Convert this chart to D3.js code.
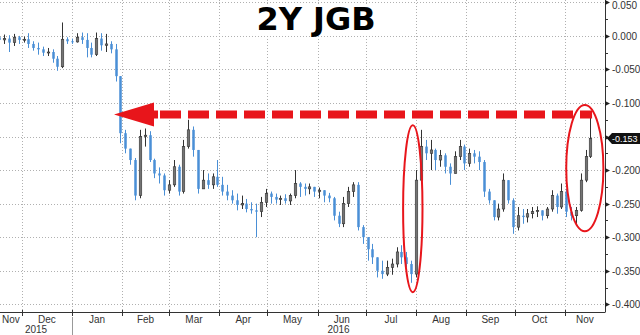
<!DOCTYPE html>
<html>
<head>
<meta charset="utf-8">
<title>2Y JGB</title>
<script src="https://cdnjs.cloudflare.com/ajax/libs/d3/7.8.5/d3.min.js"></script>
<style>
  body { margin:0; background:#fff; }
  svg { display:block; }
  .ax text { font-family:"Liberation Sans Narrow","Arial Narrow","Liberation Sans",sans-serif; font-size:10px; fill:#333; }
</style>
</head>
<body>
<div id="chart"></div>
<script>
// 2Y JGB yield, one candle every 3 calendar days from 17 Nov 2015
var firstDay = new Date(2015, 10, 17);
var stepDays = 3;

var closes = [
  -0.006,-0.004,-0.010,-0.002,-0.006,-0.005,-0.012,-0.018,-0.020,-0.025,
  -0.024,-0.034,-0.046,-0.005,-0.008,-0.009,-0.002,-0.006,-0.018,-0.028,
  -0.004,-0.014,-0.012,-0.020,-0.060,-0.145,-0.168,-0.185,-0.238,-0.150,
  -0.148,-0.185,-0.205,-0.208,-0.230,-0.222,-0.195,-0.232,-0.165,-0.140,
  -0.170,-0.228,-0.215,-0.222,-0.210,-0.222,-0.232,-0.238,-0.245,-0.252,
  -0.250,-0.258,-0.260,-0.262,-0.248,-0.235,-0.240,-0.244,-0.242,-0.246,
  -0.238,-0.220,-0.225,-0.228,-0.225,-0.232,-0.230,-0.238,-0.242,-0.268,
  -0.280,-0.250,-0.232,-0.222,-0.285,-0.300,-0.318,-0.330,-0.350,-0.355,
  -0.345,-0.340,-0.322,-0.330,-0.340,-0.355,-0.215,-0.165,-0.175,-0.170,
  -0.185,-0.178,-0.195,-0.205,-0.180,-0.165,-0.190,-0.175,-0.180,-0.188,
  -0.232,-0.245,-0.270,-0.258,-0.215,-0.245,-0.285,-0.268,-0.270,-0.265,
  -0.262,-0.260,-0.268,-0.258,-0.238,-0.255,-0.232,-0.262,-0.268,-0.260,
  -0.215,-0.180,-0.153
];
var highs = [
  -0.002, 0.002, 0.001, 0.003, 0.000,-0.001, 0.004,-0.008,-0.010,-0.016,
  -0.018,-0.020,-0.030, 0.020,-0.002,-0.004, 0.004, 0.005, 0.004,-0.010,
   0.005, 0.004, 0.003,-0.008,-0.012,-0.060,-0.140,-0.170,-0.182,-0.140,
  -0.138,-0.142,-0.183,-0.196,-0.205,-0.215,-0.185,-0.192,-0.155,-0.125,
  -0.135,-0.170,-0.200,-0.205,-0.205,-0.185,-0.210,-0.222,-0.230,-0.235,
  -0.238,-0.243,-0.248,-0.250,-0.240,-0.228,-0.232,-0.235,-0.238,-0.236,
  -0.235,-0.200,-0.218,-0.220,-0.220,-0.225,-0.226,-0.232,-0.234,-0.240,
  -0.262,-0.240,-0.225,-0.218,-0.218,-0.282,-0.300,-0.310,-0.330,-0.335,
  -0.335,-0.332,-0.315,-0.312,-0.322,-0.335,-0.200,-0.140,-0.155,-0.155,
  -0.168,-0.170,-0.175,-0.190,-0.172,-0.155,-0.162,-0.168,-0.170,-0.172,
  -0.185,-0.228,-0.245,-0.250,-0.205,-0.215,-0.242,-0.255,-0.258,-0.258,
  -0.255,-0.254,-0.260,-0.255,-0.230,-0.235,-0.220,-0.228,-0.255,-0.255,
  -0.205,-0.170,-0.115
];
var lows = [
  -0.014,-0.012,-0.024,-0.015,-0.012,-0.010,-0.018,-0.022,-0.028,-0.030,
  -0.030,-0.040,-0.052,-0.048,-0.012,-0.012,-0.010,-0.012,-0.032,-0.032,
  -0.030,-0.022,-0.024,-0.026,-0.068,-0.160,-0.175,-0.192,-0.245,-0.242,
  -0.165,-0.188,-0.212,-0.220,-0.238,-0.235,-0.225,-0.238,-0.235,-0.168,
  -0.180,-0.235,-0.228,-0.228,-0.228,-0.225,-0.238,-0.245,-0.250,-0.260,
  -0.258,-0.263,-0.265,-0.300,-0.270,-0.255,-0.250,-0.250,-0.252,-0.250,
  -0.252,-0.242,-0.240,-0.238,-0.236,-0.240,-0.242,-0.248,-0.248,-0.275,
  -0.285,-0.285,-0.255,-0.240,-0.290,-0.310,-0.335,-0.340,-0.360,-0.362,
  -0.358,-0.356,-0.345,-0.340,-0.345,-0.368,-0.360,-0.215,-0.185,-0.200,
  -0.200,-0.195,-0.205,-0.222,-0.205,-0.185,-0.200,-0.195,-0.190,-0.200,
  -0.240,-0.250,-0.275,-0.275,-0.262,-0.250,-0.295,-0.290,-0.280,-0.278,
  -0.272,-0.270,-0.275,-0.272,-0.262,-0.265,-0.258,-0.270,-0.275,-0.282,
  -0.262,-0.218,-0.182
];

var yTicks = [0.05, 0, -0.05, -0.1, -0.15, -0.2, -0.25, -0.3, -0.35, -0.4];
var monthTicks = d3.timeMonth.range(new Date(2015, 10, 1), new Date(2016, 11, 1));
var yearLabels = ["2015", "2016"];
var lastValue = -0.153;

// annotations
var arrowLevel = -0.117;
var arrowDates = [new Date(2016, 0, 27), new Date(2016, 10, 18)];
var rings = [
  {dates:[new Date(2016, 6, 24), new Date(2016, 7, 5)], values:[-0.133, -0.382]},
  {dates:[new Date(2016, 10, 2), new Date(2016, 10, 25)], values:[-0.103, -0.291]}
];

var W = 640, H = 335;
var plotR = 605, plotB = 312;

var candles = closes.map(function(c, i) {
  return {
    date: d3.timeDay.offset(firstDay, i * stepDays),
    open: i ? closes[i - 1] : -0.002,
    close: c, high: highs[i], low: lows[i]
  };
});

var x = d3.scaleTime()
  .domain([new Date(2015, 10, 17, 10), new Date(2016, 10, 26)])
  .range([0, plotR]);
var y = d3.scaleLinear().domain([-0.4115, 0.0535]).range([plotB, 0]);

var svg = d3.select("#chart").append("svg")
  .attr("width", W).attr("height", H);

svg.append("defs").append("clipPath").attr("id", "clip")
  .append("rect").attr("x", 0).attr("y", 0).attr("width", plotR).attr("height", plotB);

// grid
var grid = svg.append("g").attr("stroke", "#b0b0b0").attr("stroke-dasharray", "1,2");
grid.selectAll(".h").data(yTicks).enter().append("line")
  .attr("x1", 0).attr("x2", plotR)
  .attr("y1", function(d){ return Math.round(y(d)) + 0.5; })
  .attr("y2", function(d){ return Math.round(y(d)) + 0.5; });
grid.selectAll(".v").data(monthTicks.filter(function(d){ return x(d) > 0 && x(d) < plotR; }))
  .enter().append("line")
  .attr("y1", 0).attr("y2", plotB)
  .attr("x1", function(d){ return Math.round(x(d)) + 0.5; })
  .attr("x2", function(d){ return Math.round(x(d)) + 0.5; });

// title
var title = svg.append("text")
  .attr("x", 316).attr("y", 30)
  .attr("text-anchor", "middle")
  .style("font-family", "'DejaVu Sans', sans-serif")
  .style("font-weight", "bold")
  .style("font-size", "32px")
  .attr("fill", "#000")
  .text("2Y JGB");
var tb = title.node().getBBox();
svg.insert("rect", "text").attr("x", tb.x - 4).attr("y", tb.y + 4)
  .attr("width", tb.width + 8).attr("height", tb.height - 6).attr("fill", "#fff");

// candles
var cg = svg.append("g").attr("clip-path", "url(#clip)");
var bw = 2.5;
var cs = cg.selectAll(".c").data(candles).enter().append("g");
cs.append("line")
  .attr("x1", function(d){ return Math.round(x(d.date)) + 0.5; })
  .attr("x2", function(d){ return Math.round(x(d.date)) + 0.5; })
  .attr("y1", function(d){ return y(Math.max(d.high, d.open, d.close)); })
  .attr("y2", function(d){ return y(Math.min(d.low, d.open, d.close)); })
  .attr("stroke", function(d){ return d.close >= d.open ? "#333" : "#4a8fd6"; })
  .attr("stroke-width", 1);
cs.append("rect")
  .attr("x", function(d){ return Math.round(x(d.date)) + 0.5 - bw / 2; })
  .attr("width", bw)
  .attr("y", function(d){ return y(Math.max(d.open, d.close)); })
  .attr("height", function(d){ return Math.max(1, Math.abs(y(d.open) - y(d.close))); })
  .attr("fill", function(d){ return d.close >= d.open ? "#747474" : "#4a8fd6"; })
  .attr("stroke", function(d){ return d.close >= d.open ? "#333" : "none"; })
  .attr("stroke-width", 0.6);

// red arrow
var red = "#e8151b";
var ay = y(arrowLevel);
var tipX = x(arrowDates[0]);
svg.append("line")
  .attr("x1", tipX + 46).attr("x2", x(arrowDates[1]))
  .attr("y1", ay).attr("y2", ay)
  .attr("stroke", red).attr("stroke-width", 8)
  .attr("stroke-dasharray", "21,7");
svg.append("path")
  .attr("d", "M" + tipX + "," + ay + "L" + (tipX + 40) + "," + (ay - 12) +
       "L" + (tipX + 40) + "," + (ay - 4) + "L" + (tipX + 44) + "," + (ay - 4) +
       "L" + (tipX + 44) + "," + (ay + 4) + "L" + (tipX + 40) + "," + (ay + 4) +
       "L" + (tipX + 40) + "," + (ay + 12) + "Z")
  .attr("fill", red);

svg.selectAll(".ring").data(rings).enter().append("ellipse")
  .attr("cx", function(d){ return (x(d.dates[0]) + x(d.dates[1])) / 2; })
  .attr("cy", function(d){ return (y(d.values[0]) + y(d.values[1])) / 2; })
  .attr("rx", function(d){ return (x(d.dates[1]) - x(d.dates[0])) / 2; })
  .attr("ry", function(d){ return (y(d.values[1]) - y(d.values[0])) / 2; })
  .attr("fill", "none").attr("stroke", red).attr("stroke-width", 2);

// right axis
var ax = svg.append("g").attr("class", "ax");
ax.append("line").attr("x1", plotR + 0.5).attr("x2", plotR + 0.5)
  .attr("y1", 0).attr("y2", plotB).attr("stroke", "#333");
var minor = d3.range(0, yTicks.length - 1).map(function(i){ return (yTicks[i] + yTicks[i + 1]) / 2; });
ax.selectAll(".mn").data(minor).enter().append("line")
  .attr("x1", plotR).attr("x2", plotR + 3)
  .attr("y1", function(d){ return Math.round(y(d)) + 0.5; })
  .attr("y2", function(d){ return Math.round(y(d)) + 0.5; })
  .attr("stroke", "#333");
var yt = ax.selectAll(".yt").data(yTicks).enter().append("g")
  .attr("transform", function(d){ return "translate(" + plotR + "," + (Math.round(y(d)) + 0.5) + ")"; });
yt.append("path").attr("d", "M0,-2.5L5,0L0,2.5Z").attr("fill", "#222");
yt.filter(function(d){ return Math.abs(y(d) - y(lastValue)) > 9; })
  .append("text").attr("x", 7)
  .attr("y", function(d){ return Math.max(0, 5 - y(d)); })
  .attr("dy", "0.35em")
  .text(function(d){ return d3.format(".3f")(d).replace("−", "-"); });

// last value tag
var ly = y(lastValue);
ax.append("path")
  .attr("d", "M" + (plotR + 2) + "," + ly + "L" + (plotR + 7) + "," + (ly - 5.5) +
       "L" + W + "," + (ly - 5.5) + "L" + W + "," + (ly + 5.5) +
       "L" + (plotR + 7) + "," + (ly + 5.5) + "Z")
  .attr("fill", "#111");
ax.append("text").attr("x", plotR + 7).attr("y", ly).attr("dy", "0.35em")
  .style("fill", "#fff").style("font-size", "9px")
  .text(d3.format(".3f")(lastValue).replace("−", "-"));

// bottom axis
ax.append("line").attr("x1", 0).attr("x2", plotR + 0.5)
  .attr("y1", plotB + 0.5).attr("y2", plotB + 0.5).attr("stroke", "#333");
var inner = monthTicks.filter(function(d){ return x(d) > 0 && x(d) < plotR; });
ax.selectAll(".mt").data(inner).enter().append("line")
  .attr("x1", function(d){ return Math.round(x(d)) + 0.5; })
  .attr("x2", function(d){ return Math.round(x(d)) + 0.5; })
  .attr("y1", plotB - 2).attr("y2", plotB + 4).attr("stroke", "#333");
var d0 = x.domain()[0], d1 = x.domain()[1];
ax.selectAll(".ml").data(monthTicks.filter(function(d){ return d < d1; })).enter().append("text")
  .attr("x", function(d){
    var a = d < d0 ? d0 : d, b = d3.timeMonth.offset(d, 1);
    if (b > d1) b = d1;
    return (x(a) + x(b)) / 2;
  })
  .attr("y", plotB + 11).attr("text-anchor", "middle")
  .text(d3.timeFormat("%b"));
var yearStart = new Date(2016, 0, 1);
ax.append("line").attr("x1", Math.round(x(yearStart)) + 0.5).attr("x2", Math.round(x(yearStart)) + 0.5)
  .attr("y1", plotB + 5).attr("y2", H).attr("stroke", "#999");
ax.append("text").attr("x", (x(d0) + x(yearStart)) / 2).attr("y", plotB + 21)
  .attr("text-anchor", "middle").text(yearLabels[0]);
ax.append("text").attr("x", (x(yearStart) + x(d1)) / 2).attr("y", plotB + 21)
  .attr("text-anchor", "middle").text(yearLabels[1]);
</script>
</body>
</html>
